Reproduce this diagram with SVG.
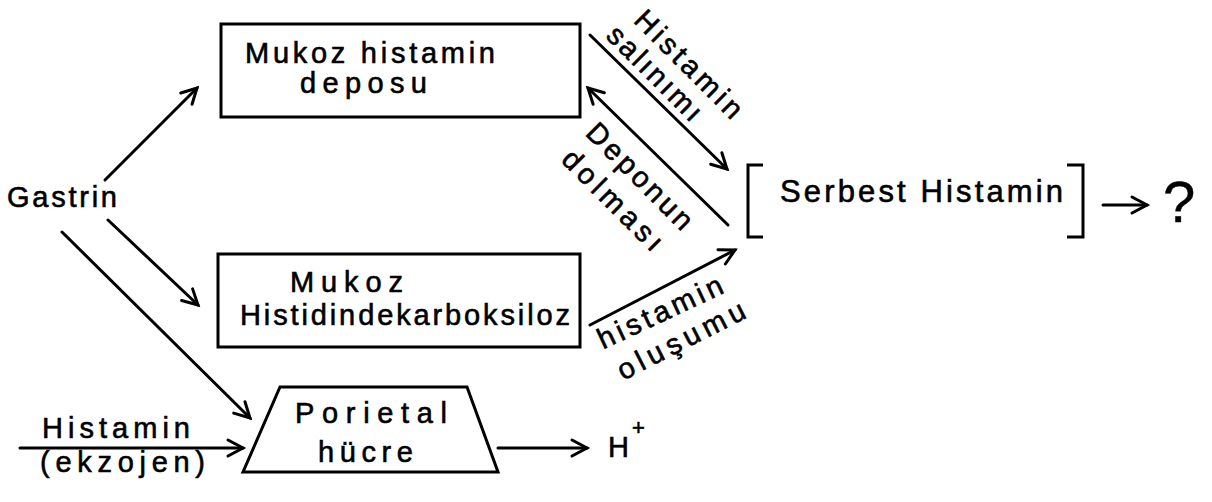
<svg xmlns="http://www.w3.org/2000/svg" width="1212" height="502" viewBox="0 0 1212 502">
<style>
text{font-family:"Liberation Sans","DejaVu Sans",sans-serif;font-size:29px;fill:#000;stroke:#000;stroke-width:0.6}
.big{font-size:31px}
.q{font-size:58px;stroke-width:0.4}
.sup{font-size:22px}
.shape{fill:none;stroke:#000;stroke-width:3;stroke-linejoin:miter}
.conn line{stroke:#000;stroke-width:3;stroke-linecap:round;marker-end:url(#arr)}
</style>
<defs>
<marker id="arr" viewBox="-18 -11 22 22" refX="0" refY="0" markerWidth="22" markerHeight="22" markerUnits="userSpaceOnUse" orient="auto">
<path d="M-15,-8 L0,0 L-15,8" fill="none" stroke="#000" stroke-width="3" stroke-linecap="round" stroke-linejoin="miter"/>
</marker>
</defs>
<rect width="1212" height="502" fill="#fff"/>

<g id="gastrin"><text x="7" y="207" textLength="110" lengthAdjust="spacing">Gastrin</text></g>

<g id="depo">
<rect class="shape" x="221" y="24" width="359" height="93"/>
<text x="245" y="63" textLength="250" lengthAdjust="spacing">Mukoz histamin</text>
<text x="300" y="93" textLength="127" lengthAdjust="spacing">deposu</text>
</g>

<g id="dekarboksilaz">
<rect class="shape" x="218" y="254" width="362" height="93"/>
<text x="290" y="292" textLength="113" lengthAdjust="spacing">Mukoz</text>
<text x="240" y="325" textLength="330" lengthAdjust="spacing">Histidindekarboksiloz</text>
</g>

<g id="parietal">
<polygon class="shape" points="280,387 467,387 498,472 243,472"/>
<text x="295" y="423" textLength="152" lengthAdjust="spacing">Porietal</text>
<text x="318" y="462" textLength="95" lengthAdjust="spacing">hücre</text>
</g>

<g id="serbest">
<path class="shape" d="M763,165 H748 V237 H763 M1067,165 H1083 V237 H1067"/>
<text class="big" x="780" y="202" textLength="283" lengthAdjust="spacing">Serbest Histamin</text>
</g>

<g id="soru"><text class="q" x="1163" y="222">?</text></g>

<g id="hplus">
<text x="608" y="457">H<tspan class="sup" dx="3" dy="-22">+</tspan></text>
</g>

<g id="ekzojen">
<text x="42" y="438" textLength="148" lengthAdjust="spacing">Histamin</text>
<text x="40" y="472" textLength="165" lengthAdjust="spacing">(ekzojen)</text>
</g>

<g id="connectors" class="conn">
<line x1="105" y1="180" x2="197" y2="88"/>
<line x1="108" y1="220" x2="198" y2="305"/>
<line x1="62" y1="232" x2="250" y2="418"/>
<line x1="20" y1="448" x2="243" y2="448"/>
<line x1="498" y1="448" x2="587" y2="448"/>
<line x1="590" y1="35" x2="727" y2="169"/>
<line x1="728" y1="225" x2="588" y2="88"/>
<line x1="590" y1="325" x2="735" y2="250"/>
<line x1="1103" y1="205" x2="1147" y2="205"/>
</g>

<g id="labels">
<text transform="translate(689,64) rotate(45)" x="0" y="10" text-anchor="middle" textLength="140" lengthAdjust="spacing">Histamin</text>
<text transform="translate(655,73) rotate(45)" x="0" y="10" text-anchor="middle" textLength="122" lengthAdjust="spacing">salınımı</text>
<text transform="translate(640,176) rotate(45)" x="0" y="10" text-anchor="middle" textLength="138" lengthAdjust="spacing">Deponun</text>
<text transform="translate(613,200) rotate(45)" x="0" y="10" text-anchor="middle" textLength="130" lengthAdjust="spacing">dolması</text>
<text transform="translate(660,312) rotate(-25)" x="0" y="10" text-anchor="middle" textLength="135" lengthAdjust="spacing">histamin</text>
<text transform="translate(681,340) rotate(-27)" x="0" y="10" text-anchor="middle" textLength="140" lengthAdjust="spacing">oluşumu</text>
</g>
</svg>
